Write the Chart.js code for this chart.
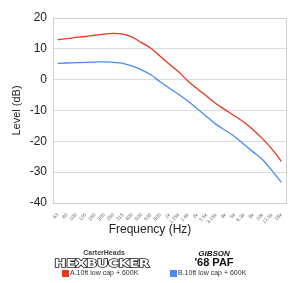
<!DOCTYPE html>
<html>
<head>
<meta charset="utf-8">
<script src="https://cdn.jsdelivr.net/npm/chart.js@4"></script>
<style>
  html, body { margin: 0; padding: 0; background: #fff; }
  #wrap { width: 300px; height: 283px; position: relative; }
</style>
</head>
<body>
<div id="wrap"><canvas id="freqChart" width="300" height="283"></canvas></div>
<script>
// 1/3-octave bands along the x axis
const frequencies = ['63', '80', '100', '125', '160', '200', '250', '315', '400', '500', '630', '800',
  '1k', '1.25k', '1.6k', '2k', '2.5k', '3.15k', '4k', '5k', '6.3k', '8k', '10k', '12.5k', '16k'];

// Hexbucker (A) and Gibson '68 PAF (B) levels in dB
const seriesA = [13.0, 13.3, 13.7, 14.0, 14.4, 14.8, 15.0, 14.8, 13.8, 12.0, 10.2, 7.6,
  5.0, 2.5, -0.5, -3.0, -5.4, -7.8, -9.8, -11.8, -13.8, -16.3, -19.2, -22.5, -26.5];
const seriesB = [5.3, 5.4, 5.5, 5.6, 5.7, 5.8, 5.6, 5.3, 4.4, 3.2, 1.6, -0.7,
  -2.8, -4.8, -7.0, -9.5, -12.0, -14.5, -16.5, -18.5, -21.0, -23.5, -26.0, -29.5, -33.3];

const yTicks = [20, 10, 0, -10, -20, -30, -40];

const labelA = 'A.10ft low cap + 600K';
const labelB = 'B.10ft low cap + 600K';

// draws frame, x title and the logo/legend block under the chart
const extras = {
  id: 'extras',
  afterDraw(chart) {
    const ctx = chart.ctx;
    const a = chart.chartArea;
    ctx.save();
    ctx.strokeStyle = '#cfcfcf';
    ctx.lineWidth = 1;
    ctx.strokeRect(Math.round(a.left) + 0.5, Math.round(a.top) + 0.5,
      Math.round(a.right - a.left), Math.round(a.bottom - a.top));

    ctx.fillStyle = '#222';
    ctx.textAlign = 'center';
    ctx.textBaseline = 'middle';
    ctx.font = '12px Arial, "Liberation Sans", sans-serif';
    ctx.fillText('Frequency (Hz)', 150, 230);

    // CarterHeads / HEXBUCKER logo
    ctx.font = 'bold 7px Arial, "Liberation Sans", sans-serif';
    ctx.fillStyle = '#444';
    ctx.fillText('CarterHeads', 104, 253);
    ctx.save();
    ctx.font = 'bold 11px "DejaVu Sans", sans-serif';
    const w = ctx.measureText('HEXBUCKER').width;
    ctx.translate(102, 264);
    ctx.scale(95 / w, 1);
    ctx.lineWidth = 1.5;
    ctx.strokeStyle = '#222';
    ctx.strokeText('HEXBUCKER', 0, 0);
    ctx.fillStyle = '#fff';
    ctx.fillText('HEXBUCKER', 0, 0);
    ctx.restore();

    // Gibson logo
    ctx.fillStyle = '#111';
    ctx.font = 'italic bold 8px Arial, "Liberation Sans", sans-serif';
    ctx.fillText('GIBSON', 214, 254);
    ctx.font = 'bold 11px Arial, "Liberation Sans", sans-serif';
    ctx.fillText("'68 PAF", 214, 263);

    // legend rows
    ctx.textAlign = 'left';
    ctx.font = '7px Arial, "Liberation Sans", sans-serif';
    ctx.fillStyle = '#e8351c';
    ctx.fillRect(62, 270, 7, 7);
    ctx.fillStyle = '#333';
    ctx.fillText(labelA, 70, 273.5);
    ctx.fillStyle = '#4a8af4';
    ctx.fillRect(170, 270, 7, 7);
    ctx.fillStyle = '#333';
    ctx.fillText(labelB, 178, 273.5);
    ctx.restore();
  }
};

const chart = new Chart(document.getElementById('freqChart'), {
  type: 'line',
  data: {
    labels: frequencies,
    datasets: [{
      label: labelA,
      data: seriesA,
      borderColor: '#e8351c',
      borderWidth: 1.3,
      pointRadius: 0,
      cubicInterpolationMode: 'monotone',
      fill: false
    }, {
      label: labelB,
      data: seriesB,
      borderColor: '#4a8af4',
      borderWidth: 1.3,
      pointRadius: 0,
      cubicInterpolationMode: 'monotone',
      fill: false
    }]
  },
  options: {
    responsive: false,
    animation: false,
    layout: { padding: { top: 18, right: 14, left: 0, bottom: 0 } },
    plugins: {
      legend: { display: false },
      tooltip: { enabled: false }
    },
    scales: {
      x: {
        offset: true,
        grid: { display: false },
        border: { display: false },
        ticks: {
          autoSkip: false,
          minRotation: 45,
          maxRotation: 45,
          padding: 1,
          color: '#666',
          font: { size: 5 }
        },
        afterFit: function(scale) { scale.height = 80; }
      },
      y: {
        min: -40,
        max: 20,
        afterBuildTicks: function(scale) {
          scale.ticks = yTicks.map(v => ({ value: v }));
        },
        grid: { color: '#dcdcdc', drawTicks: false },
        border: { display: false },
        ticks: {
          padding: 6,
          color: '#222',
          font: { size: 12, family: 'Arial, "Liberation Sans", sans-serif' }
        },
        title: {
          display: true,
          text: 'Level (dB)',
          color: '#222',
          padding: { top: 10, bottom: 0 },
          font: { size: 11, family: 'Arial, "Liberation Sans", sans-serif' }
        },
        afterFit: function(scale) { scale.width = 53; }
      }
    }
  },
  plugins: [extras]
});
</script>
</body>
</html>
